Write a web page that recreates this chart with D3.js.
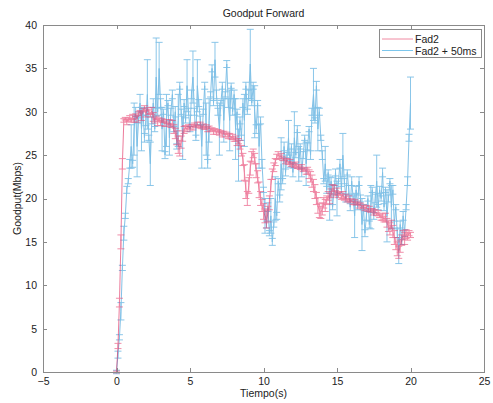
<!DOCTYPE html>
<html><head><meta charset="utf-8">
<script src="https://cdn.jsdelivr.net/npm/d3@7"></script>
<style>
body{margin:0;background:#fff;}
svg text{font-family:"Liberation Sans",Arial,sans-serif;}
</style></head>
<body><svg id="c" width="493" height="403"></svg>
<script>
const title = "Goodput Forward";
const xLabel = "Tiempo(s)";
const yLabel = "Goodput(Mbps)";
const seriesNames = ["Fad2", "Fad2 + 50ms"];
const xTicks = [-5, 0, 5, 10, 15, 20, 25];
const yTicks = [0, 5, 10, 15, 20, 25, 30, 35, 40];
const time = d3.range(0, 201).map(i => i / 10);

const fad2 = [0,3,8,15,24,29,29.2,28.8,29.1,29.3,
29,29.4,29,29.6,29.2,29.8,30,29.5,30.2,30.4,
29.8,30.3,30,29.6,30.1,29.4,29,29.3,28.8,29.1,
28.7,29,28.9,28.6,28.9,28.5,28.8,28.4,28.6,28,
27.5,27,26.2,25.8,26.5,27.2,27.9,28.2,28,28.3,
28.1,28.4,28.2,28.5,28.3,28.6,28.3,28.5,28.2,28.4,
28.1,28.3,28,28.2,27.9,28,27.7,27.9,27.6,27.8,
27.5,27.7,27.4,27.6,27.3,27.5,27.2,27.3,27,27.1,
26.8,26.9,26.5,26.6,26.2,25.5,24.5,23,21,20,
21.5,23.5,24.8,25.2,24.6,23.2,22.5,21,20,19.2,
18.5,18,17.6,18.2,19.5,21.5,22.8,23.6,24.2,24.8,
25,24.8,24.9,24.6,24.5,24.3,24.4,24.1,24.2,23.9,
24,23.8,23.9,23.6,23.7,23.5,23.6,23.3,23.4,23.1,
23.2,22.8,22.5,22,21.5,20.8,20,19.2,18.6,18.4,
18.8,19.5,19.2,19.8,20.3,20,20.6,21.2,21,20.6,
20.8,20.4,20.6,20.2,20.4,20,20.2,19.8,20,19.7,
19.8,19.5,19.6,19.4,19.5,19.2,19.3,19,19.1,18.9,
19,18.7,18.8,18.6,18.7,18.4,18.5,18.2,18.3,18,
17.8,17.9,17.6,17.8,17.2,16.8,16.5,17,16.2,15.5,
14.8,14.2,13.8,14.5,15.2,15.8,15.4,15.9,15.6,16,
15.8];
const fad2Err = [0.1,0.3,0.5,0.8,0.6,0.2,0.15,0.3,0.2,0.25,
0.2,0.3,0.2,0.15,0.4,0.2,0.15,0.5,0.2,0.3,
0.4,0.2,0.3,0.2,0.4,0.5,0.3,0.2,0.4,0.2,
0.3,0.2,0.15,0.3,0.2,0.15,0.3,0.2,0.4,0.5,
0.6,0.8,1,0.9,0.7,0.6,0.4,0.2,0.3,0.2,
0.2,0.15,0.3,0.2,0.15,0.2,0.15,0.3,0.15,0.2,
0.15,0.2,0.3,0.15,0.2,0.15,0.3,0.15,0.2,0.15,
0.2,0.15,0.3,0.15,0.2,0.15,0.3,0.2,0.15,0.3,
0.2,0.3,0.4,0.3,0.5,0.6,0.7,0.9,1,0.8,
0.9,0.8,0.6,0.5,0.6,0.8,0.7,0.9,0.8,0.7,
0.9,0.8,1,0.9,0.8,0.7,0.6,0.5,0.4,0.3,
0.4,0.2,0.3,0.2,0.15,0.3,0.2,0.15,0.3,0.2,
0.15,0.2,0.3,0.15,0.2,0.15,0.3,0.2,0.15,0.3,
0.4,0.5,0.6,0.7,0.7,0.8,0.7,0.9,0.8,0.7,
0.7,0.6,0.7,0.5,0.5,0.6,0.5,0.4,0.5,0.3,
0.4,0.3,0.2,0.3,0.4,0.2,0.3,0.2,0.3,0.2,
0.15,0.2,0.3,0.15,0.2,0.3,0.15,0.2,0.15,0.3,
0.2,0.15,0.3,0.2,0.15,0.3,0.2,0.15,0.3,0.2,
0.3,0.4,0.3,0.5,0.5,0.6,0.7,0.5,0.7,0.8,
0.7,0.8,0.7,0.7,0.6,0.5,0.7,0.5,0.4,0.3,
0.3];

const fad2_50 = [0,2,4,7,12,16,18,21,22,24,
26,24,28,30,26,29,31,28,30,27,
29,32,27,24,29,31,28,34,30,35,
31,28,30,25,29,31,27,30,32,28,
30,26,29,33,30,27,31,29,33,30,
28,32,34,30,27,33,31,29,26,30,
33,28,24,29,32,35,31,36,32,30,
28,31,33,29,32,35.5,31,29,33,30,
32,28,30,25,29,27,31,29,33,30,
32,35.5,31,33,30,28,31,26,29,24,
21,18,17,19,16,18,15,17,20,18,
22,20,24,22,26,23,25,27,24,26,
23,27,25,28,24,26,23,25,27,24,
26,28,25,30,32,29,33,28,30,27,
25,22,24,21,23,20,22,19,21,23,
20,22,24,21,25,22,20,23,21,19,
22,20,18,21,19,22,20,17,19,16,
18,20,17,19,21,18,20,22,19,21,
20,23,19,21,18,20,22,19,21,17,
19,16,14,17,15,18,16,19,22,27,
31];
const fad2_50Err = [0.2,0.4,0.3,1,0.3,0.8,0.3,0.4,0.3,0.5,
2.5,0.4,3,0.5,3.5,0.3,1,2.5,0.4,0.5,
0.6,4,0.3,2.5,0.4,0.5,0.3,4.5,0.4,3,
0.5,2.5,0.3,0.4,3,0.3,2,0.4,0.5,0.3,
0.6,0.3,3,0.4,0.3,2.5,0.4,0.3,3,0.4,
0.3,0.5,3,0.4,0.3,3,0.4,0.5,2.5,0.3,
0.4,3,0.5,2.5,0.3,0.4,0.3,2,0.5,0.4,
3,0.3,0.4,2.5,0.3,0.4,0.5,3.5,0.3,0.4,
0.5,3.5,0.3,3,0.4,0.3,0.5,3,0.4,0.3,
0.5,4,0.3,0.4,3,0.5,0.3,2.5,0.4,0.5,
0.3,2,0.4,0.5,0.3,2,0.4,0.3,2.5,0.4,
0.3,0.4,3,0.3,0.5,0.4,0.3,2,0.4,0.3,
0.5,3,0.3,0.4,2,0.3,0.5,0.4,0.3,2.5,
0.4,0.3,0.5,0.4,3,0.3,0.5,2.5,0.4,0.3,
0.5,0.3,2,0.4,0.3,2.5,0.4,0.3,0.5,0.4,
2,0.3,0.5,0.4,2.5,0.3,0.4,0.3,0.5,0.4,
0.5,0.3,2.5,0.4,0.3,0.5,0.4,3,0.3,0.4,
0.5,0.3,0.4,2.5,0.3,0.4,0.5,3,0.3,0.4,
0.3,0.5,0.4,0.3,3,0.4,0.3,2.5,0.5,0.4,
0.3,0.5,1.5,0.4,0.3,0.5,0.4,0.3,0.5,0.4,
3];

const svg = d3.select("#c");
const L = 43, R = 484, T = 25, B = 372;
const x = d3.scaleLinear().domain([-5, 25]).range([L, R]);
const y = d3.scaleLinear().domain([0, 40]).range([B, T]);
const axisCol = "#8a8a8a";
const fs = "10.5px";

const series = [
  {name: seriesNames[0], vals: fad2, err: fad2Err, line: "#e01e55", eb: "#e8406e", op: 0.65},
  {name: seriesNames[1], vals: fad2_50, err: fad2_50Err, line: "#2b96d6", eb: "#3a9fda", op: 0.65}
];
const cap = 3.5;
const gPlot = svg.append("g");
[series[1], series[0]].forEach(s => {
  const g = gPlot.append("g").attr("opacity", s.op);
  const line = d3.line().x((d, i) => x(time[i])).y(d => y(d));
  g.append("path").datum(s.vals).attr("d", line)
    .attr("fill", "none").attr("stroke", s.line).attr("stroke-width", 0.9);
  const eg = g.append("g").attr("stroke", s.eb).attr("stroke-width", 0.9).attr("fill", "none");
  s.vals.forEach((v, i) => {
    const e = s.err[i];
    const cx = x(time[i]);
    const y1 = y(v - e), y2 = y(v + e);
    eg.append("line").attr("x1", cx).attr("x2", cx).attr("y1", y1).attr("y2", y2);
    eg.append("line").attr("x1", cx - cap).attr("x2", cx + cap).attr("y1", y1).attr("y2", y1);
    eg.append("line").attr("x1", cx - cap).attr("x2", cx + cap).attr("y1", y2).attr("y2", y2);
  });
});

svg.append("rect").attr("x", L).attr("y", T).attr("width", R - L).attr("height", B - T)
  .attr("fill", "none").attr("stroke", axisCol).attr("stroke-width", 1).attr("shape-rendering", "crispEdges");

const xAxis = d3.axisBottom(x).tickValues(xTicks).tickSizeInner(-4).tickSizeOuter(0).tickPadding(7);
const gx = svg.append("g").attr("transform", `translate(0,${B})`).call(xAxis);
gx.select(".domain").remove();
gx.selectAll("line").attr("stroke", axisCol).attr("shape-rendering", "crispEdges");
gx.selectAll("text").attr("fill", "#222").style("font-size", fs).attr("dy", "0.6em");
const xTop = d3.axisTop(x).tickValues(xTicks).tickSizeInner(-4).tickSizeOuter(0).tickFormat("");
const gxt = svg.append("g").attr("transform", `translate(0,${T})`).call(xTop);
gxt.select(".domain").remove();
gxt.selectAll("line").attr("stroke", axisCol).attr("shape-rendering", "crispEdges");

const yAxis = d3.axisLeft(y).tickValues(yTicks).tickSizeInner(-4).tickSizeOuter(0).tickPadding(6);
const gy = svg.append("g").attr("transform", `translate(${L},0)`).call(yAxis);
gy.select(".domain").remove();
gy.selectAll("line").attr("stroke", axisCol).attr("shape-rendering", "crispEdges");
gy.selectAll("text").attr("fill", "#222").style("font-size", fs);
const yRight = d3.axisRight(y).tickValues(yTicks).tickSizeInner(-4).tickSizeOuter(0).tickFormat("");
const gyr = svg.append("g").attr("transform", `translate(${R},0)`).call(yRight);
gyr.select(".domain").remove();
gyr.selectAll("line").attr("stroke", axisCol).attr("shape-rendering", "crispEdges");

svg.append("text").attr("x", (L + R) / 2).attr("y", 17).attr("text-anchor", "middle")
  .style("font-size", fs).attr("fill", "#222").text(title);
svg.append("text").attr("x", (L + R) / 2).attr("y", 397).attr("text-anchor", "middle")
  .style("font-size", fs).attr("fill", "#222").text(xLabel);
svg.append("text").attr("transform", `translate(21,${(T + B) / 2}) rotate(-90)`).attr("text-anchor", "middle")
  .style("font-size", fs).attr("fill", "#222").text(yLabel);

const lg = svg.append("g");
lg.append("rect").attr("x", 379.5).attr("y", 29.5).attr("width", 102).attr("height", 28)
  .attr("fill", "#fff").attr("stroke", axisCol).attr("stroke-width", 1);
const legCols = ["#f08aa2", "#7cc6ec"];
seriesNames.forEach((n, i) => {
  const yy = 39 + i * 11.5;
  lg.append("line").attr("x1", 382).attr("x2", 413).attr("y1", yy).attr("y2", yy)
    .attr("stroke", legCols[i]).attr("stroke-width", 1);
  lg.append("text").attr("x", 415).attr("y", yy + 4).style("font-size", fs).attr("fill", "#222").text(n);
});
</script></body></html>
